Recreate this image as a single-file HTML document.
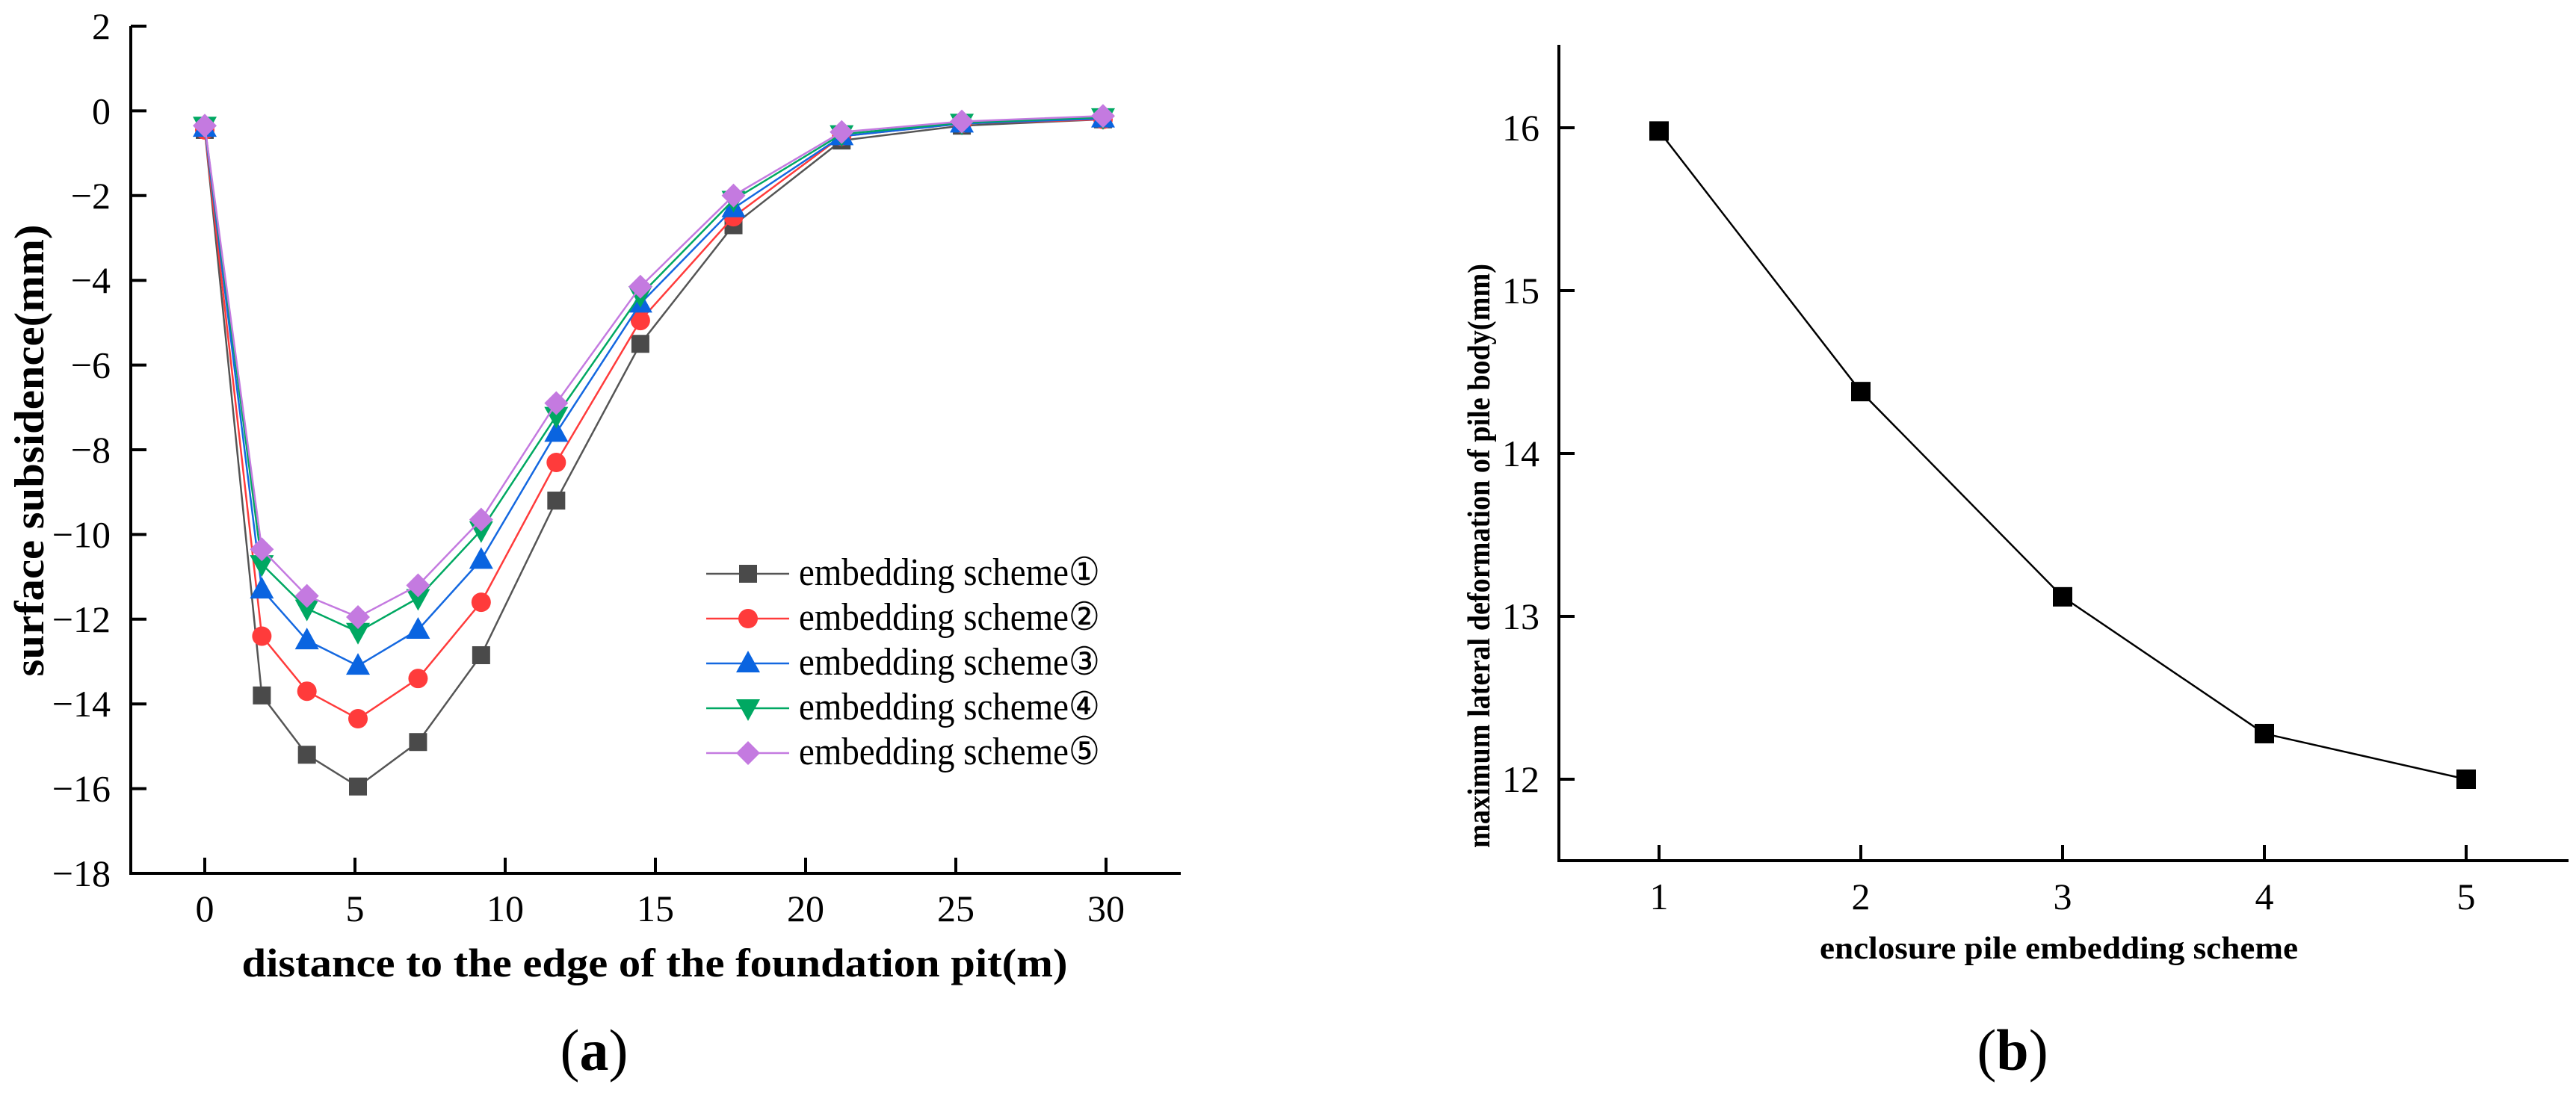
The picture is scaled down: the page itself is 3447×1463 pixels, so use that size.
<!DOCTYPE html>
<html><head><meta charset="utf-8">
<style>
html,body{margin:0;padding:0;background:#fff;}
svg{display:block;}
text{font-family:"Liberation Serif","DejaVu Serif",serif;fill:#000;}
</style></head>
<body>
<svg id="fig" width="3447" height="1463" viewBox="0 0 3447 1463" xmlns="http://www.w3.org/2000/svg">
  <g id="chartA"></g>
  <g id="chartB"></g>
</svg>
<script>
// ---------- Chart (a) data ----------
const distances = [0, 1.9, 3.4, 5.1, 7.1, 9.2, 11.7, 14.5, 17.6, 21.2, 25.2, 29.9];
const scheme1 = [-0.45, -13.8, -15.2, -15.95, -14.9, -12.85, -9.2, -5.5, -2.7, -0.7, -0.35, -0.2];
const scheme2 = [-0.45, -12.4, -13.7, -14.35, -13.4, -11.6, -8.3, -4.95, -2.5, -0.6, -0.3, -0.2];
const scheme3 = [-0.4, -11.3, -12.5, -13.1, -12.25, -10.6, -7.6, -4.55, -2.3, -0.6, -0.3, -0.18];
const scheme4 = [-0.35, -10.7, -11.75, -12.3, -11.5, -9.9, -7.2, -4.35, -2.1, -0.55, -0.28, -0.15];
const scheme5 = [-0.35, -10.35, -11.45, -11.95, -11.2, -9.65, -6.9, -4.15, -2.0, -0.5, -0.25, -0.12];
const seriesNames = ["embedding scheme\u2460","embedding scheme\u2461","embedding scheme\u2462","embedding scheme\u2463","embedding scheme\u2464"];
const aXTicks = [0, 5, 10, 15, 20, 25, 30];
const aYTicks = [2, 0, -2, -4, -6, -8, -10, -12, -14, -16, -18];
// ---------- Chart (b) data ----------
const schemes = [1, 2, 3, 4, 5];
const maxDeformation = [15.98, 14.38, 13.12, 12.28, 12.0];
const bXTicks = [1, 2, 3, 4, 5];
const bYTicks = [12, 13, 14, 15, 16];

const NS = "http://www.w3.org/2000/svg";
function mk(tag, attrs, parent){
  const e = document.createElementNS(NS, tag);
  for (const k in attrs) e.setAttribute(k, attrs[k]);
  parent.appendChild(e);
  return e;
}
function fmt(v){ return v < 0 ? "\u2212" + Math.abs(v) : String(v); }

// ---------- Chart (a) ----------
const A = document.getElementById("chartA");
const axL = 175, axR = 1580, axT = 35, axB = 1169;
const ax = v => 274 + (v - 0) * (1480 - 274) / 30;
const ay = v => axT + (2 - v) * (axB - axT) / 20;

let el = mk("path", {d:`M${axL},${axT} V${axB} H${axR}`, fill:"none", stroke:"#000", "stroke-width":4}, A);


aYTicks.forEach(t => {
  const y = ay(t);
  const tk = mk("line", {x1:axL, x2:axL+21, y1:y, y2:y, stroke:"#000", "stroke-width":4}, A);
  
  
  const lb = mk("text", {x:148, y:y+17, "text-anchor":"end", "font-size":50}, A);
  lb.textContent = fmt(t);
  
  
});
aXTicks.forEach(t => {
  const x = ax(t);
  const tk = mk("line", {x1:x, x2:x, y1:axB, y2:axB-21, stroke:"#000", "stroke-width":4}, A);
  
  
  const lb = mk("text", {x:x, y:1233, "text-anchor":"middle", "font-size":50}, A);
  lb.textContent = String(t);
  
  
});
el = mk("text", {x:0, y:0, "text-anchor":"middle", "font-size":56, "font-weight":"bold",
  transform:"translate(58,603) rotate(-90)", textLength:605, lengthAdjust:"spacingAndGlyphs"}, A);
el.textContent = "surface subsidence(mm)";


el = mk("text", {x:876, y:1307, "text-anchor":"middle", "font-size":54, "font-weight":"bold",
  textLength:1105, lengthAdjust:"spacingAndGlyphs"}, A);
el.textContent = "distance to the edge of the foundation pit(m)";


el = mk("text", {x:795, y:1432, "text-anchor":"middle", "font-size":78}, A);
el.innerHTML = '(<tspan font-weight="bold">a</tspan>)';



const allSeries = [scheme1, scheme2, scheme3, scheme4, scheme5];
const lineCols = ["#555555", "#ff3b3b", "#1468e0", "#00a862", "#c47ae0"];
const markCols = ["#4a4a4a", "#ff3b3b", "#0a64e0", "#00a862", "#c47ae0"];
function marker(kind, cx, cy, col, parent){
  let m;
  if (kind === 0) m = mk("rect", {x:cx-12, y:cy-12, width:24, height:24, fill:col}, parent);
  else if (kind === 1) m = mk("circle", {cx:cx, cy:cy, r:13, fill:col}, parent);
  else if (kind === 2) m = mk("polygon", {points:`${cx},${cy-17} ${cx+16},${cy+12} ${cx-16},${cy+12}`, fill:col}, parent);
  else if (kind === 3) m = mk("polygon", {points:`${cx-16},${cy-12} ${cx+16},${cy-12} ${cx},${cy+17}`, fill:col}, parent);
  else m = mk("polygon", {points:`${cx},${cy-16} ${cx+16},${cy} ${cx},${cy+16} ${cx-16},${cy}`, fill:col}, parent);
  return m;
}
allSeries.forEach((vals, si) => {
  const g = mk("g", {}, A);
  
  
  const pts = vals.map((v, i) => ax(distances[i]) + "," + ay(v)).join(" ");
  const ln = mk("polyline", {points:pts, fill:"none", stroke:lineCols[si], "stroke-width":2.5}, g);
  
  
  vals.forEach((v, i) => {
    const m = marker(si, ax(distances[i]), ay(v), markCols[si], g);
    
    
  });
});
// legend
const LG = mk("g", {}, A);


seriesNames.forEach((name, si) => {
  const y = 768 + si * 60;
  const g = mk("g", {}, LG);
  
  
  mk("line", {x1:945, x2:1056, y1:y, y2:y, stroke:lineCols[si], "stroke-width":2.5}, g);
  marker(si, 1001, y, markCols[si], g);
  const t = mk("text", {x:1069, y:y+15, "font-size":52, textLength:403, lengthAdjust:"spacingAndGlyphs"}, g);
  t.textContent = name;
});

// ---------- Chart (b) ----------
const B = document.getElementById("chartB");
const bL = 2086, bR = 3437, bT = 60, bB = 1152;
const bx = v => 2220 + (v - 1) * (3300 - 2220) / 4;
const by = v => 171 + (16 - v) * (1043 - 171) / 4;

el = mk("path", {d:`M${bL},${bT} V${bB} H${bR}`, fill:"none", stroke:"#000", "stroke-width":4}, B);


bYTicks.forEach(t => {
  const y = by(t);
  const tk = mk("line", {x1:bL, x2:bL+21, y1:y, y2:y, stroke:"#000", "stroke-width":4}, B);
  
  
  const lb = mk("text", {x:2060, y:y+17, "text-anchor":"end", "font-size":50}, B);
  lb.textContent = String(t);
  
  
});
bXTicks.forEach(t => {
  const x = bx(t);
  const tk = mk("line", {x1:x, x2:x, y1:bB, y2:bB-21, stroke:"#000", "stroke-width":4}, B);
  
  
  const lb = mk("text", {x:x, y:1217, "text-anchor":"middle", "font-size":50}, B);
  lb.textContent = String(t);
  
  
});
el = mk("text", {x:0, y:0, "text-anchor":"middle", "font-size":42, "font-weight":"bold",
  transform:"translate(1993,744) rotate(-90)", textLength:782, lengthAdjust:"spacingAndGlyphs"}, B);
el.textContent = "maximum lateral deformation of pile body(mm)";


el = mk("text", {x:2755, y:1283, "text-anchor":"middle", "font-size":42, "font-weight":"bold",
  textLength:640, lengthAdjust:"spacingAndGlyphs"}, B);
el.textContent = "enclosure pile embedding scheme";


el = mk("text", {x:2693, y:1432, "text-anchor":"middle", "font-size":78}, B);
el.innerHTML = '(<tspan font-weight="bold">b</tspan>)';



const bg = mk("g", {}, B);


const bpts = maxDeformation.map((v, i) => bx(schemes[i]) + "," + by(v)).join(" ");
el = mk("polyline", {points:bpts, fill:"none", stroke:"#000", "stroke-width":2.5}, bg);


maxDeformation.forEach((v, i) => {
  const m = mk("rect", {x:bx(schemes[i])-13, y:by(v)-13, width:26, height:26, fill:"#000"}, bg);
  
  
});
</script>
</body></html>
